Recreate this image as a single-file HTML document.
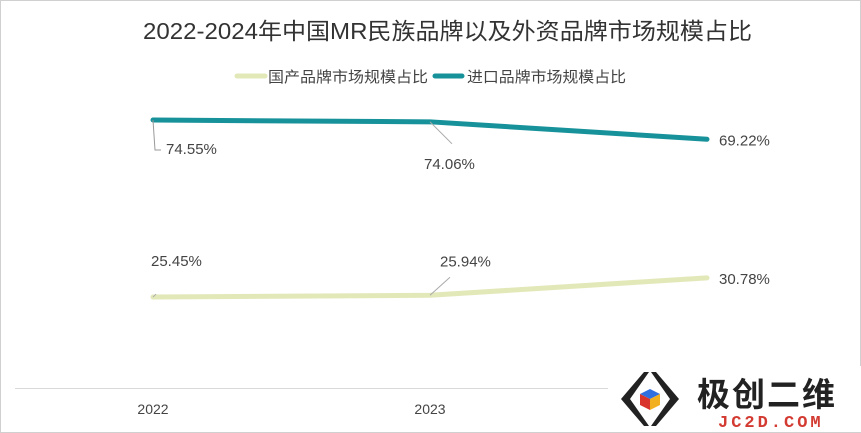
<!DOCTYPE html>
<html><head><meta charset="utf-8"><style>
html,body{margin:0;padding:0;background:#fff;}
body{width:861px;height:433px;overflow:hidden;position:relative;font-family:"Liberation Sans","Noto Sans CJK SC",sans-serif;}
#frame{position:absolute;left:0;top:0;width:859px;height:431px;border:1px solid #d0d0d0;}
</style></head><body>
<div id="frame"></div>
<svg id="chart" width="861" height="433" style="position:absolute;left:0;top:0">
<text x="143" y="39" textLength="609" lengthAdjust="spacingAndGlyphs" font-size="23" fill="#333" font-family="Liberation Sans, Noto Sans CJK SC, sans-serif">2022-2024年中国MR民族品牌以及外资品牌市场规模占比</text>
<g>
<g>
<line x1="237" y1="76" x2="265" y2="76" stroke="#e3e8b9" stroke-width="5" stroke-linecap="round"/>
<text x="268" y="82" textLength="160" lengthAdjust="spacingAndGlyphs" font-size="15" fill="#444" font-family="Liberation Sans, Noto Sans CJK SC, sans-serif">国产品牌市场规模占比</text></g>
<g>
<line x1="435" y1="76" x2="462" y2="76" stroke="#17929a" stroke-width="5" stroke-linecap="round"/>
<text x="467" y="82" textLength="159" lengthAdjust="spacingAndGlyphs" font-size="15" fill="#444" font-family="Liberation Sans, Noto Sans CJK SC, sans-serif">进口品牌市场规模占比</text></g>
</g>
<line x1="15" y1="388.5" x2="846" y2="388.5" stroke="#d9d9d9" stroke-width="1"/>
<g id="plot"></g>
<g>
<rect x="608" y="366" width="253" height="66" fill="#fff"/>
<polygon points="644,372 621,399 644,426 649,426 630,399 649,372" fill="#222"/>
<polygon points="656,372 679,399 656,426 651,426 670,399 651,372" fill="#222"/>
<polygon points="650,389 660,394 650,399 640,394" fill="#2f6fe0"/>
<polygon points="640,394 650,399 650,410 640,405" fill="#d9342b"/>
<polygon points="660,394 650,399 650,410 660,405" fill="#f2b01e"/>
<text x="697" y="406" font-size="33" font-weight="bold" fill="#222" font-family="Liberation Sans, Noto Sans CJK SC, sans-serif" letter-spacing="2">极创二维</text>
<text x="718" y="427" font-size="17" font-weight="bold" fill="#d33b32" font-family="Liberation Mono, monospace" letter-spacing="3">JC2D.COM</text>
</g>
</svg>
<script>
const years = ["2022","2023","2024"];
const domestic = [25.45, 25.94, 30.78];
const imported = [74.55, 74.06, 69.22];
const NS="http://www.w3.org/2000/svg";
const plot=document.getElementById('plot');
function xs(i){return 153+i*277;}
function ys(v){return 388.8-v*3.605;}
function mk(tag,attrs){const e=document.createElementNS(NS,tag);for(const k in attrs)e.setAttribute(k,attrs[k]);plot.appendChild(e);return e;}
years.forEach((y,i)=>{
  if(i<2){const t=mk('text',{x:xs(i),y:414,'text-anchor':'middle','font-size':14,fill:'#444','font-family':'Liberation Sans, sans-serif'});t.textContent=y;
  
  }
});
function series(vals,color,name,above){
  const p=mk('polyline',{points:vals.map((v,i)=>xs(i)+','+ys(v)).join(' '),fill:'none',stroke:color,'stroke-width':5,'stroke-linecap':'round','stroke-linejoin':'round'});
  
  
  vals.forEach((v,i)=>{
    const x=xs(i),y=ys(v);let tx,ty;
    if(i==2){tx=x+12;ty=y+6;}
    else if(i==0){
      if(above){mk('polyline',{points:`${x},${y} ${x+3},${y-3}`,fill:'none',stroke:'#aaa','stroke-width':1});tx=x-2;ty=y-31;}
      else{mk('polyline',{points:`${x},${y} ${x+2},${y+30} ${x+8},${y+30}`,fill:'none',stroke:'#999','stroke-width':1});tx=x+13;ty=y+34;}
    } else {
      if(above){mk('line',{x1:x,y1:y,x2:x+20,y2:y-18,stroke:'#aaa','stroke-width':1});tx=x+10;ty=y-29;}
      else{mk('line',{x1:x,y1:y,x2:x+22,y2:y+22,stroke:'#aaa','stroke-width':1});tx=x-6;ty=y+47;}
    }
    const t=mk('text',{x:tx,y:ty,'font-size':15,fill:'#444','font-family':'Liberation Sans, sans-serif'});
    t.textContent=v.toFixed(2)+'%';
    
    
  });
}
series(domestic,'#e3e8b9','domestic',true);
series(imported,'#17929a','import',false);
</script>
</body></html>
